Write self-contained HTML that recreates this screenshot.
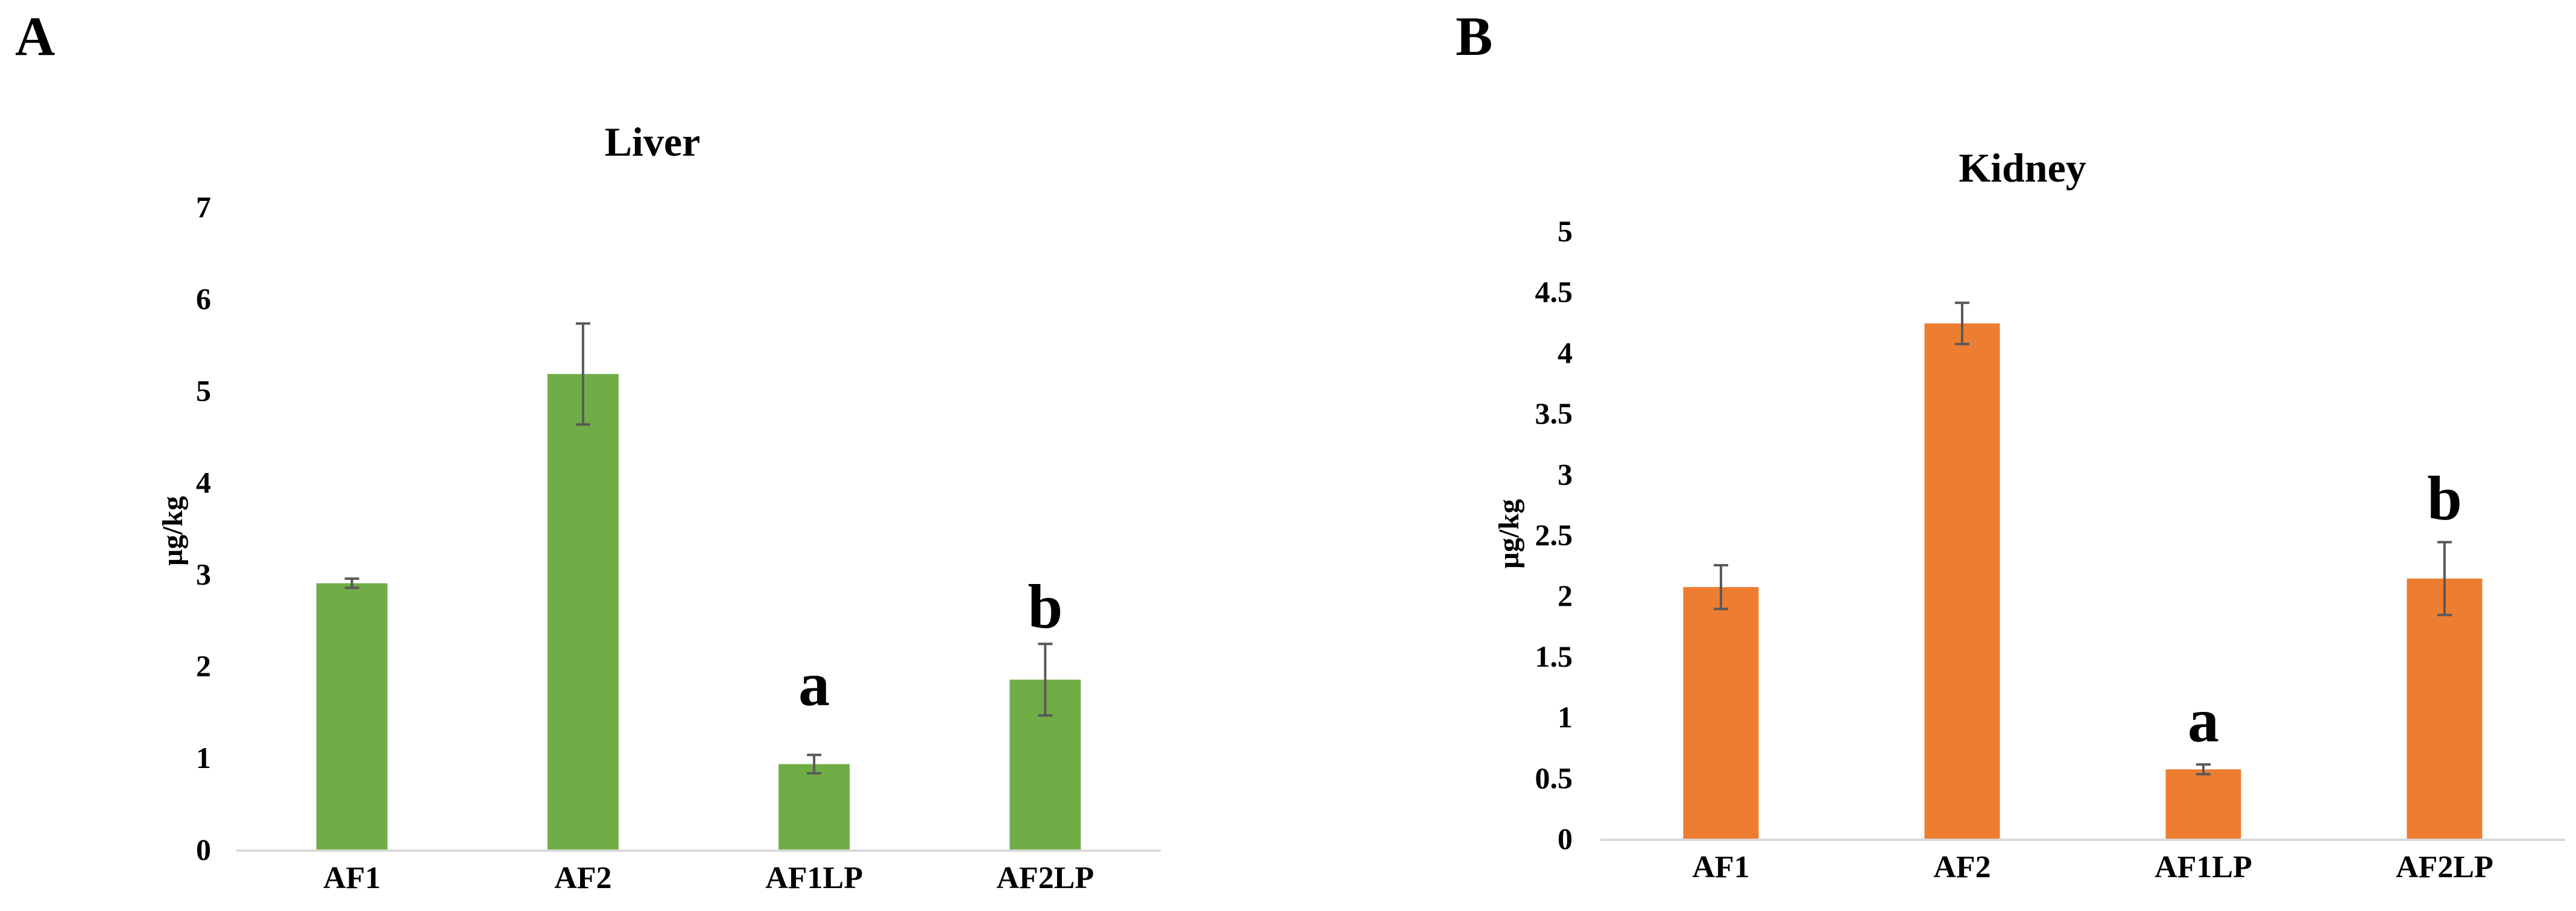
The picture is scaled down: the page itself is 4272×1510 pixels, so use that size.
<!DOCTYPE html>
<html><head><meta charset="utf-8"><style>
html,body{margin:0;padding:0;background:#fff}
svg{display:block;font-family:"Liberation Serif",serif;font-weight:bold}
</style></head><body>
<svg id="fig" width="4272" height="1510" viewBox="0 0 4272 1510" xmlns="http://www.w3.org/2000/svg">
<text x="25" y="91" font-size="92">A</text>
<text x="2414" y="91" font-size="92">B</text>
<g id="liver"></g>
<g id="kidney"></g>
</svg>
<script>
const categories = ["AF1", "AF2", "AF1LP", "AF2LP"];
const liverValues = [2.90, 5.18, 0.93, 1.85];
const liverErrors = [0.05, 0.55, 0.10, 0.39];
const liverLetters = ["", "", "a", "b"];
const liverLetterLevels = [0, 0, 1.57, 2.42];
const liverTicks = ["0", "1", "2", "3", "4", "5", "6", "7"];
const kidneyValues = [2.07, 4.24, 0.57, 2.14];
const kidneyErrors = [0.18, 0.17, 0.04, 0.30];
const kidneyLetters = ["", "", "a", "b"];
const kidneyLetterLevels = [0, 0, 0.8, 2.63];
const kidneyTicks = ["0", "0.5", "1", "1.5", "2", "2.5", "3", "3.5", "4", "4.5", "5"];

const NS = "http://www.w3.org/2000/svg";
function mk(parent, tag, attrs, text) {
  const e = document.createElementNS(NS, tag);
  for (const k in attrs) e.setAttribute(k, attrs[k]);
  if (text !== undefined) e.textContent = text;
  parent.appendChild(e);
  return e;
}
function drawChart(g, cfg, values, errors, letters, levels, ticks, prefix) {
  const yMax = parseFloat(ticks[ticks.length - 1]);
  const y = v => cfg.y0 - (v / yMax) * (cfg.y0 - cfg.yTop);
  const band = (cfg.x1 - cfg.x0) / categories.length;
  const xc = i => cfg.x0 + band * (i + 0.5);

  const t = mk(g, "text", {x: cfg.titleX, y: cfg.titleY, "font-size": 68, "text-anchor": "middle"}, cfg.title);
  
  

  const yl = mk(g, "text", {x: 0, y: 0, "font-size": 48, "text-anchor": "middle", transform: "translate(" + cfg.ylabX + "," + cfg.ylabY + ") rotate(-90)"}, "µg/kg");
  
  

  ticks.forEach(tk => {
    const e = mk(g, "text", {x: cfg.tickX, y: y(parseFloat(tk)) + 17, "font-size": 50, "text-anchor": "end"}, tk);
    
    
  });

  categories.forEach((c, i) => {
    const bar = mk(g, "rect", {x: xc(i) - cfg.bw / 2, y: y(values[i]), width: cfg.bw, height: cfg.y0 - y(values[i]), fill: cfg.color});
    
    

    const hi = y(values[i] + errors[i]), lo = y(values[i] - errors[i]);
    const eg = mk(g, "g", {stroke: "#595959", "stroke-width": 4});
    
    
    mk(eg, "line", {x1: xc(i), x2: xc(i), y1: hi, y2: lo});
    mk(eg, "line", {x1: xc(i) - 12, x2: xc(i) + 12, y1: hi, y2: hi});
    mk(eg, "line", {x1: xc(i) - 12, x2: xc(i) + 12, y1: lo, y2: lo});

    const xl = mk(g, "text", {x: xc(i), y: cfg.y0 + 64, "font-size": 52, "text-anchor": "middle"}, c);
    
    

    if (letters[i]) {
      const l = mk(g, "text", {x: xc(i), y: y(levels[i]), "font-size": 104, "text-anchor": "middle"}, letters[i]);
      
      
    }
  });

  const ax = mk(g, "line", {x1: cfg.x0, x2: cfg.x1, y1: cfg.y0 + 2, y2: cfg.y0 + 2, stroke: "#d9d9d9", "stroke-width": 4});
  
  
}

drawChart(document.getElementById("liver"),
  {x0: 392, x1: 1925, y0: 1408, yTop: 343, bw: 118, color: "#70AD47", title: "Liver", titleX: 1082, titleY: 258, ylabX: 302, ylabY: 880, tickX: 350},
  liverValues, liverErrors, liverLetters, liverLetterLevels, liverTicks, "liver");
drawChart(document.getElementById("kidney"),
  {x0: 2654, x1: 4254, y0: 1390, yTop: 383, bw: 125, color: "#ED7D31", title: "Kidney", titleX: 3354, titleY: 301, ylabX: 2518, ylabY: 885, tickX: 2608},
  kidneyValues, kidneyErrors, kidneyLetters, kidneyLetterLevels, kidneyTicks, "kidney");
</script>
</body></html>
